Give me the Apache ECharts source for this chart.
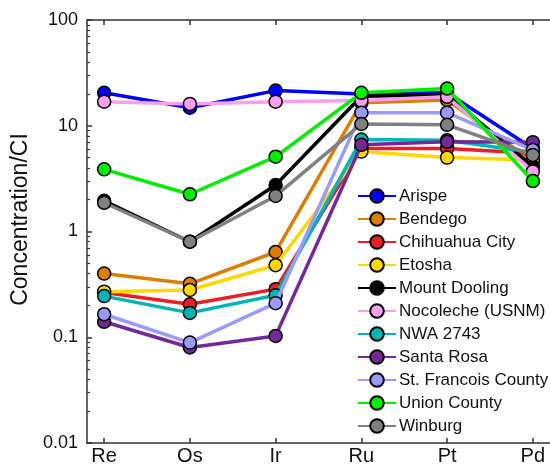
<!DOCTYPE html>
<html>
<head>
<meta charset="utf-8">
<script src="https://cdn.jsdelivr.net/npm/echarts@6/dist/echarts.min.js"></script>
<style>html,body{margin:0;padding:0;background:#fff;}#chart{width:550px;height:466px;}</style>
</head>
<body>
<div id="chart"></div>
<script>
const categories = ['Re', 'Os', 'Ir', 'Ru', 'Pt', 'Pd'];
const yTickValues = [0.01, 0.1, 1, 10, 100];
const seriesNames = ['Arispe', 'Bendego', 'Chihuahua City', 'Etosha', 'Mount Dooling', 'Nocoleche (USNM)', 'NWA 2743', 'Santa Rosa', 'St. Francois County', 'Union County', 'Winburg'];
const arispe = [20.5, 14.8, 21.5, 20.0, 20.5, 6.1];
const bendego = [0.40, 0.32, 0.64, 16.5, 17.5, 4.6];
const chihuahuaCity = [0.265, 0.205, 0.285, 6.1, 6.1, 5.5];
const etosha = [0.27, 0.28, 0.48, 5.7, 5.0, 4.75];
const mountDooling = [1.95, 0.80, 2.75, 19.0, 19.5, 4.1];
const nocoleche = [16.9, 16.1, 16.9, 17.3, 18.8, 3.7];
const nwa2743 = [0.245, 0.17, 0.25, 7.4, 7.3, 5.6];
const santaRosa = [0.14, 0.080, 0.103, 6.6, 7.05, 7.0];
const stFrancois = [0.165, 0.089, 0.21, 13.3, 13.3, 5.9];
const unionCounty = [3.87, 2.25, 5.1, 20.5, 22.5, 3.0];
const winburg = [1.87, 0.80, 2.17, 10.4, 10.2, 5.3];

const seriesValues = [arispe, bendego, chihuahuaCity, etosha, mountDooling, nocoleche, nwa2743, santaRosa, stFrancois, unionCounty, winburg];
const colors = ['#0000ff', '#dc7f00', '#ee1c25', '#ffd700', '#000000', '#fa9ef0', '#00b5b5', '#73299a', '#9b9bff', '#00ee00', '#808080'];

const minorTicks = [];
for (let d = -2; d < 2; d++) {
  for (let k = 2; k <= 9; k++) minorTicks.push(+(k * Math.pow(10, d)).toPrecision(3));
}
const idx = categories.map((c, i) => i);
const FONT = 'Liberation Sans, Arial, sans-serif';

const chart = echarts.init(document.getElementById('chart'), null, {renderer: 'canvas'});
chart.setOption({
  animation: false,
  backgroundColor: '#ffffff',
  color: colors,
  grid: {left: 87, top: 20, width: 470, height: 423, containLabel: false},
  legend: {
    data: seriesNames,
    orient: 'vertical',
    left: 357,
    top: 187.5,
    itemWidth: 38,
    itemHeight: 17,
    itemGap: 6,
    padding: 0,
    textStyle: {fontSize: 17, color: '#111', fontFamily: FONT, padding: [0, 0, 0, -2]}
  },
  xAxis: [{
    type: 'value', min: -0.2, max: 5.2, position: 'bottom',
    axisLine: {show: true, onZero: false, lineStyle: {color: '#333', width: 1.5}},
    splitLine: {show: false},
    axisTick: {show: true, inside: true, length: 5, customValues: idx, lineStyle: {color: '#333', width: 1.5}},
    axisLabel: {show: true, customValues: idx, formatter: v => categories[Math.round(v)], fontSize: 20, color: '#111', fontFamily: FONT, margin: 3}
  }, {
    type: 'value', min: -0.2, max: 5.2, position: 'top',
    axisLine: {show: true, onZero: false, lineStyle: {color: '#333', width: 1.5}},
    splitLine: {show: false},
    axisTick: {show: true, inside: true, length: 5, customValues: idx, lineStyle: {color: '#333', width: 1.5}},
    axisLabel: {show: false}
  }],
  yAxis: [{
    type: 'log', min: 0.01, max: 100, logBase: 10, position: 'left',
    name: 'Concentration/CI', nameLocation: 'middle', nameGap: 52,
    nameTextStyle: {fontSize: 23, color: '#111', fontFamily: FONT, padding: [0, 0, 0, 24]},
    axisLine: {show: true, onZero: false, lineStyle: {color: '#333', width: 1.5}},
    splitLine: {show: false},
    axisTick: {show: true, inside: true, length: 5, customValues: yTickValues, lineStyle: {color: '#333', width: 1.5}},
    axisLabel: {show: true, customValues: yTickValues, formatter: v => String(+v.toPrecision(3)), fontSize: 18, color: '#111', fontFamily: FONT, margin: 9}
  }, {
    type: 'log', min: 0.01, max: 100, logBase: 10, position: 'left',
    axisLine: {show: false, onZero: false},
    splitLine: {show: false},
    axisTick: {show: true, inside: true, length: 3, customValues: minorTicks, lineStyle: {color: '#333', width: 1.2}},
    axisLabel: {show: false}
  }],
  series: seriesNames.map((name, i) => ({
    name: name,
    type: 'line',
    xAxisIndex: 0,
    yAxisIndex: 0,
    data: seriesValues[i].map((v, j) => [j, v]),
    symbol: 'circle',
    symbolSize: 13,
    lineStyle: {width: 3.5, color: colors[i]},
    itemStyle: {color: colors[i], borderColor: '#000', borderWidth: 1.5},
    emphasis: {disabled: true},
    z: 2 + i
  }))
});
</script>
</body>
</html>
